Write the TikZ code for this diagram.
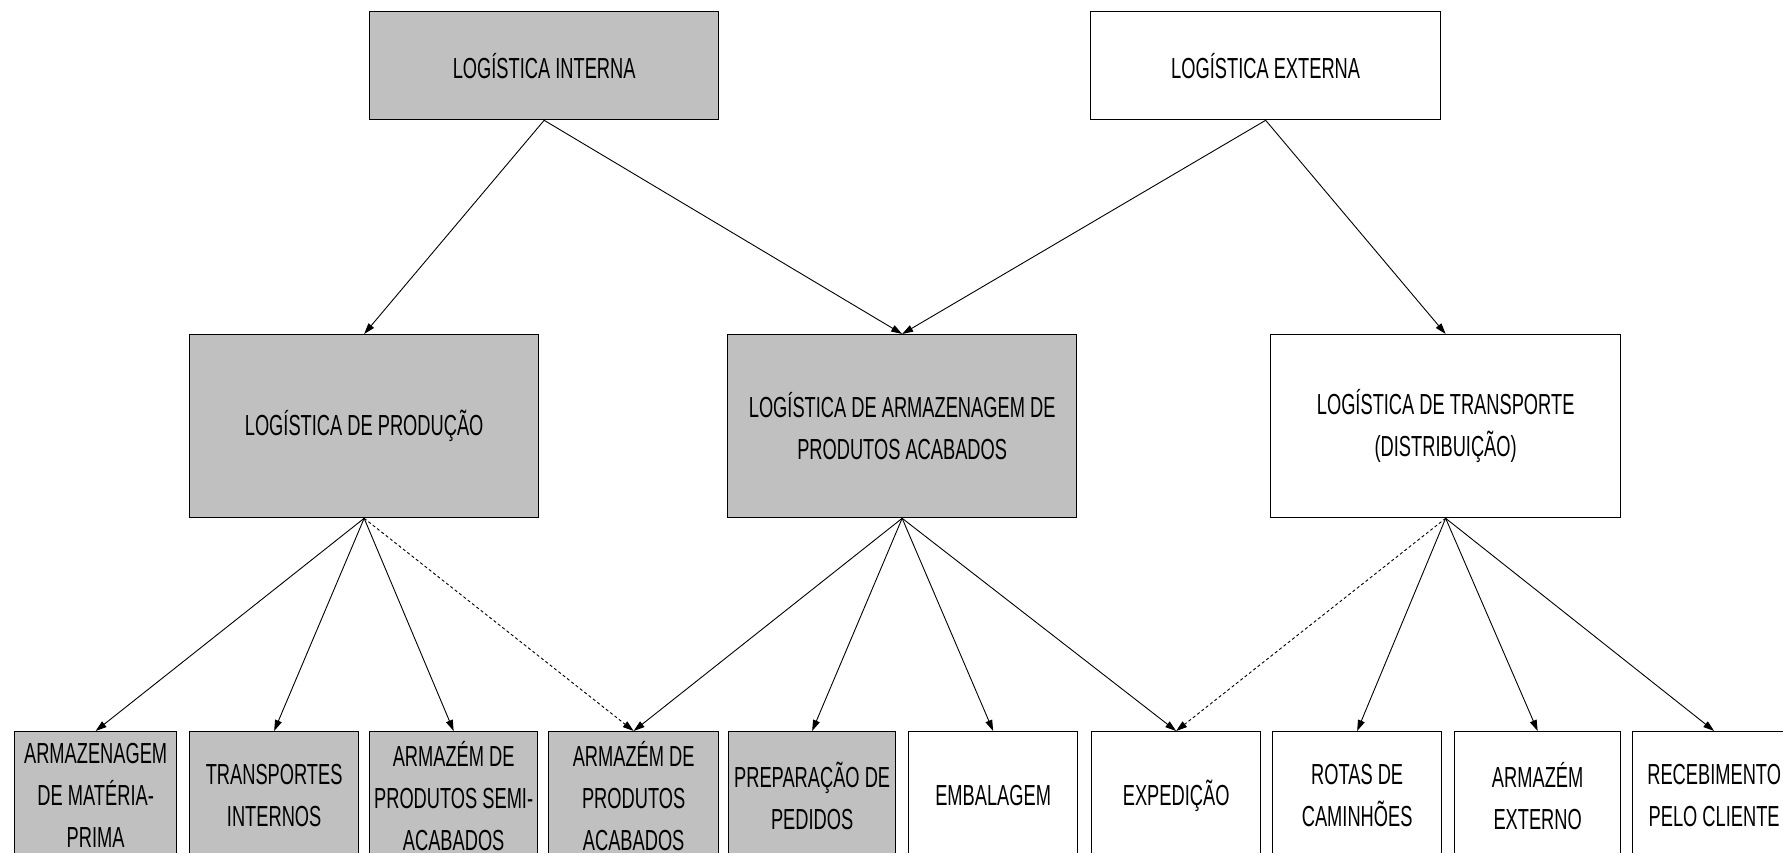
\documentclass[tikz,border=0pt]{standalone}
\usepackage{fontspec}
\setmainfont{Liberation Sans}[FakeStretch=0.63]
\usetikzlibrary{arrows.meta}
\definecolor{boxgray}{RGB}{192,192,192}
\tikzset{
  box/.style={draw=black, line width=1.3pt, inner sep=0pt, anchor=north west,
    align=center, font=\fontsize{29}{42}\selectfont},
  shaded/.style={box, fill=boxgray},
  plain/.style={box, fill=white},
  link/.style={line width=0.9pt, -{Triangle[length=11pt,width=7pt]}},
  weak/.style={link, dash pattern=on 3pt off 2.5pt},
}
\begin{document}
\begin{tikzpicture}[x=1pt,y=-1pt]
\useasboundingbox (0,0) rectangle (1783,853);
\clip (0,0) rectangle (1783,853);
\fill[white] (0,0) rectangle (1783,853);

% top level
\node[shaded, minimum width=349pt, minimum height=108pt] (int) at (369,11) {LOGÍSTICA INTERNA};
\node[plain,  minimum width=350pt, minimum height=108pt] (ext) at (1090,11) {LOGÍSTICA EXTERNA};

% middle level
\node[shaded, minimum width=349pt, minimum height=183pt] (prod) at (189,334) {LOGÍSTICA DE PRODUÇÃO};
\node[shaded, minimum width=349pt, minimum height=183pt] (arm) at (727,334) {LOGÍSTICA DE ARMAZENAGEM DE\\PRODUTOS ACABADOS};
\node[plain,  minimum width=350pt, minimum height=183pt] (trn) at (1270,334) {LOGÍSTICA DE TRANSPORTE\\(DISTRIBUIÇÃO)};

% bottom level
\node[shaded, minimum width=162pt, minimum height=128pt] (b1) at (14,731) {ARMAZENAGEM\\DE MATÉRIA-\\PRIMA};
\node[shaded, minimum width=169pt, minimum height=128pt] (b2) at (189,731) {TRANSPORTES\\INTERNOS};
\node[shaded, minimum width=168pt, minimum height=128pt] (b3) at (369,731) {ARMAZÉM DE\\PRODUTOS SEMI-\\ACABADOS};
\node[shaded, minimum width=170pt, minimum height=128pt] (b4) at (548,731) {ARMAZÉM DE\\PRODUTOS\\ACABADOS};
\node[shaded, minimum width=167pt, minimum height=128pt] (b5) at (728,731) {PREPARAÇÃO DE\\PEDIDOS};
\node[plain,  minimum width=169pt, minimum height=128pt] (b6) at (908,731) {EMBALAGEM};
\node[plain,  minimum width=169pt, minimum height=128pt] (b7) at (1091,731) {EXPEDIÇÃO};
\node[plain,  minimum width=169pt, minimum height=128pt] (b8) at (1272,731) {ROTAS DE\\CAMINHÕES};
\node[plain,  minimum width=166pt, minimum height=128pt] (b9) at (1454,731) {ARMAZÉM\\EXTERNO};
\node[plain,  minimum width=163pt, minimum height=128pt] (b10) at (1632,731) {RECEBIMENTO\\PELO CLIENTE};

% connectors
\draw[link] (int.south) -- (prod.north);
\draw[link] (int.south) -- (arm.north);
\draw[link] (ext.south) -- (arm.north);
\draw[link] (ext.south) -- (trn.north);

\draw[link] (prod.south) -- (b1.north);
\draw[link] (prod.south) -- (b2.north);
\draw[link] (prod.south) -- (b3.north);
\draw[weak] (prod.south) -- (b4.north);

\draw[link] (arm.south) -- (b4.north);
\draw[link] (arm.south) -- (b5.north);
\draw[link] (arm.south) -- (b6.north);
\draw[link] (arm.south) -- (b7.north);

\draw[weak] (trn.south) -- (b7.north);
\draw[link] (trn.south) -- (b8.north);
\draw[link] (trn.south) -- (b9.north);
\draw[link] (trn.south) -- (b10.north);
\end{tikzpicture}
\end{document}
